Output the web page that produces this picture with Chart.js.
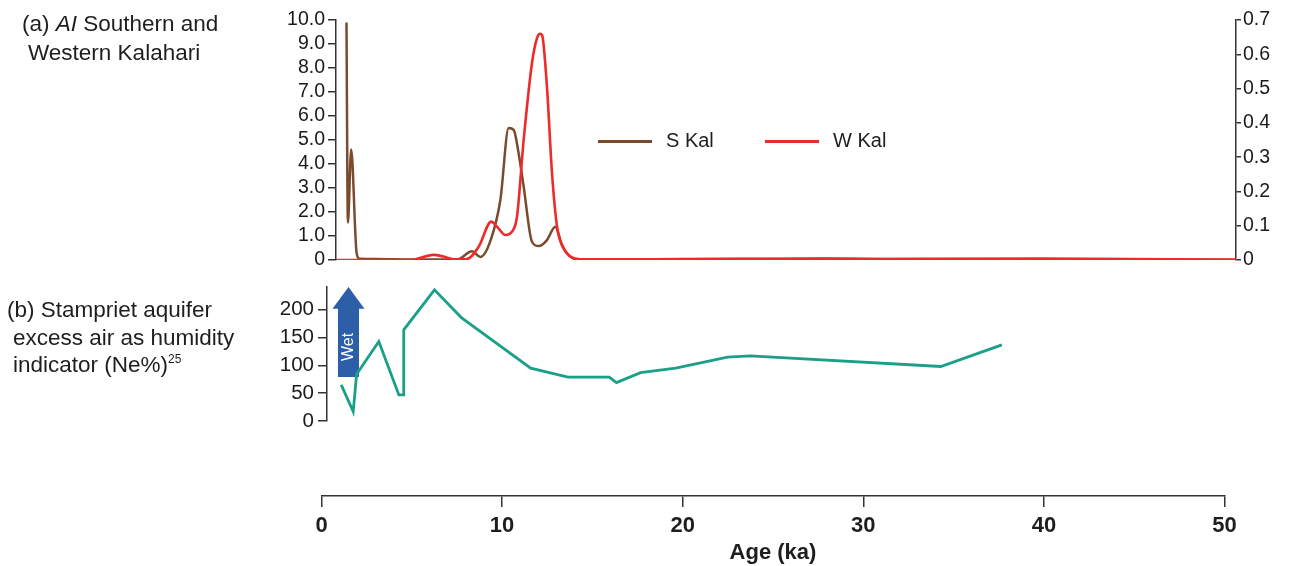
<!DOCTYPE html>
<html>
<head>
<meta charset="utf-8">
<script src="https://cdn.jsdelivr.net/npm/chart.js@4.4.1/dist/chart.umd.min.js"></script>
<style>
  body { margin: 0; background: #fff; width: 1306px; height: 566px; position: relative; overflow: hidden;
         font-family: "Liberation Sans", Arial, sans-serif; color: #1e1e1e; }
  canvas { position: absolute; left: 0; }
  .lbl { position: absolute; font-size: 22.5px; line-height: 28px; white-space: nowrap; }
  .lbl sup { font-size: 12px; vertical-align: 9px; line-height: 0; }
  .key { position: absolute; font-size: 20px; line-height: 24px; white-space: nowrap; }
  .key span { display: inline-block; width: 54px; height: 0; border-top: 3px solid; vertical-align: middle; margin-right: 14px; }
</style>
</head>
<body>
<canvas id="topChart" width="1306" height="280" style="top:0"></canvas>
<canvas id="neChart" width="1306" height="170" style="top:270px"></canvas>
<canvas id="ageAxis" width="1306" height="96" style="top:470px"></canvas>

<div class="lbl" style="left:22px;top:10px">(a) <i>AI</i> Southern and</div>
<div class="lbl" style="left:28px;top:39px">Western Kalahari</div>
<div class="lbl" style="left:7px;top:296px">(b) Stampriet aquifer</div>
<div class="lbl" style="left:13px;top:324px">excess air as humidity</div>
<div class="lbl" style="left:13px;top:351px">indicator (Ne%)<sup>25</sup></div>
<div id="legend"></div>

<script>
// (a) Aeolian index, age in ka
const sKalAge   = [1.38, 1.46, 1.64, 1.94, 2.1, 3.0, 5.0, 7.5, 8.33, 8.79, 9.35, 9.9, 10.36, 10.64, 10.91, 11.19,
                   11.65, 12.02, 12.48, 12.94, 13.31, 13.68, 14.14, 16, 20, 24, 28, 32, 36, 40, 45, 50.6];
const sKalValue = [9.9, 1.55, 4.6, 0.3, 0.05, 0.04, 0.02, 0.02, 0.36, 0.13, 0.8, 2.5, 5.5, 5.42, 4.45, 3.06,
                   0.76, 0.58, 0.83, 1.39, 0.62, 0.2, 0.03, 0.02, 0.04, 0.05, 0.06, 0.03, 0.02, 0.01, 0.01, 0];

const wKalAge   = [0.8, 4.9, 6.2, 6.75, 7.3, 8.05, 8.7, 9.4, 9.72, 10.18, 10.55, 10.82, 11.19, 11.65, 11.93,
                   12.1, 12.21, 12.48, 12.76, 13.04, 13.4, 13.77, 14.3, 20, 30, 40, 50.63];
const wKalValue = [0, 0, 0.015, 0.01, 0.002, 0.003, 0.039, 0.112, 0.097, 0.073, 0.083, 0.126, 0.35, 0.574, 0.647,
                   0.66, 0.656, 0.505, 0.253, 0.097, 0.034, 0.01, 0.002, 0.002, 0.003, 0.004, 0.001];

// (b) Stampriet excess air (Ne%)
const neAge   = [1.09, 1.75, 1.94, 3.17, 4.28, 4.52, 4.55, 6.25, 7.74, 11.58, 13.64, 15.93, 16.33, 17.66,
                 19.61, 22.48, 23.74, 34.29, 37.67];
const neValue = [65, 17, 84, 143, 47, 47, 164, 236, 186, 95, 79, 79, 69, 87, 95, 115, 117, 98, 137];

// "Wet" arrow: age, from / head / tip in Ne%
const wetArrow = { age: 1.49, from: 79, head: 202, to: 241 };

// tick labels
const aiLeftTicks  = [0, 1, 2, 3, 4, 5, 6, 7, 8, 9, 10];
const aiRightTicks = [0, 0.1, 0.2, 0.3, 0.4, 0.5, 0.6, 0.7];
const neTicks      = [0, 50, 100, 150, 200];
const ageTicks     = [0, 10, 20, 30, 40, 50];

const AXIS = '#333';
const FONT = '"Liberation Sans", Arial, sans-serif';
const toXY = (xs, ys) => xs.map((x, i) => ({ x: x, y: ys[i] }));
const fixTicks = arr => scale => { scale.ticks = arr.map(v => ({ value: v })); };
const dec1 = v => v === 0 ? '0' : v.toFixed(1);

function yAxis(pos, min, max, width, ticks, cb, tickLen, pad, size) {
    return {
        position: pos, min: min, max: max,
        afterFit: s => { s.width = width; },
        afterBuildTicks: fixTicks(ticks),
        ticks: { callback: cb, color: '#1a1a1a', padding: pad, autoSkip: false,
                 font: { family: FONT, size: size } },
        grid: { drawOnChartArea: false, tickLength: tickLen, color: AXIS, lineWidth: 1.5 },
        border: { color: AXIS, width: 1.5 }
    };
}

const base = { responsive: false, animation: false, events: [],
               plugins: { legend: { display: false }, tooltip: { enabled: false } } };

const topChart = new Chart(document.getElementById('topChart'), {
    type: 'line',
    data: {
        datasets: [
            { label: 'S Kal', data: toXY(sKalAge, sKalValue), yAxisID: 'y', order: 1,
              borderColor: '#7a4a2c', borderWidth: 2.5, pointRadius: 0, cubicInterpolationMode: 'monotone' },
            { label: 'W Kal', data: toXY(wKalAge, wKalValue), yAxisID: 'y1', order: 0,
              borderColor: '#ee2b2b', borderWidth: 2.6, pointRadius: 0, cubicInterpolationMode: 'monotone' }
        ]
    },
    options: Object.assign({}, base, {
        layout: { padding: { top: 20, bottom: 20, left: 0, right: 0 } },
        scales: {
            x: { type: 'linear', display: false, min: 0.8, max: 50.63 },
            y: yAxis('left', 0, 10, 336, aiLeftTicks, dec1, 8, 3, 19.5),
            y1: yAxis('right', 0, 0.7, 70, aiRightTicks, dec1, 5, 2, 19.5)
        }
    })
});

// legend from the datasets
const legendX = [598, 765];
topChart.data.datasets.forEach((ds, i) => {
    const d = document.createElement('div');
    d.className = 'key';
    d.style.left = legendX[i] + 'px';
    d.style.top = '128px';
    d.innerHTML = '<span style="border-color:' + ds.borderColor + '"></span>' + ds.label;
    document.getElementById('legend').appendChild(d);
});

const wetPlugin = {
    id: 'wet',
    beforeDatasetsDraw(chart) {
        const c = chart.ctx, xs = chart.scales.x, ys = chart.scales.y;
        const x = xs.getPixelForValue(wetArrow.age);
        const yb = ys.getPixelForValue(wetArrow.from);
        const yh = ys.getPixelForValue(wetArrow.head);
        const yt = ys.getPixelForValue(wetArrow.to);
        c.save();
        c.fillStyle = '#2c5fa7';
        c.beginPath();
        c.moveTo(x - 10.5, yb); c.lineTo(x - 10.5, yh); c.lineTo(x - 16, yh);
        c.lineTo(x, yt); c.lineTo(x + 16, yh); c.lineTo(x + 10.5, yh); c.lineTo(x + 10.5, yb);
        c.closePath(); c.fill();
        c.translate(x, (yb + yh) / 2 + 4);
        c.rotate(-Math.PI / 2);
        c.fillStyle = '#fff';
        c.font = '16px ' + FONT;
        c.textAlign = 'center'; c.textBaseline = 'middle';
        c.fillText('Wet', 0, 0);
        c.restore();
    }
};

new Chart(document.getElementById('neChart'), {
    type: 'line',
    data: {
        datasets: [
            { label: 'Ne%', data: toXY(neAge, neValue), borderColor: '#1a9f88', borderWidth: 2.8,
              pointRadius: 0, tension: 0 }
        ]
    },
    options: Object.assign({}, base, {
        layout: { padding: { top: 17, bottom: 19, left: 0, right: 81.5 } },
        scales: {
            x: { type: 'linear', display: false, min: 0.3, max: 50 },
            y: yAxis('left', 0, 241, 327, neTicks, v => v, 9, 4, 20.5)
        }
    }),
    plugins: [wetPlugin]
});

new Chart(document.getElementById('ageAxis'), {
    type: 'line',
    data: { datasets: [] },
    options: Object.assign({}, base, {
        layout: { padding: { top: 16, bottom: 0, left: 321.5, right: 81.5 } },
        scales: {
            x: {
                type: 'linear', min: 0, max: 50,
                afterFit: s => { s.height = 70; },
                afterBuildTicks: fixTicks(ageTicks),
                ticks: { color: '#1e1e1e', padding: 6, font: { family: FONT, size: 22, weight: 'bold' } },
                grid: { drawOnChartArea: false, tickLength: 11, color: AXIS, lineWidth: 1.5 },
                border: { color: AXIS, width: 1.5 },
                title: { display: true, text: 'Age (ka)', color: '#1e1e1e', padding: { top: 0, bottom: 0 },
                         font: { family: FONT, size: 22, weight: 'bold' } }
            },
            y: { display: false }
        }
    })
});
</script>
</body>
</html>
